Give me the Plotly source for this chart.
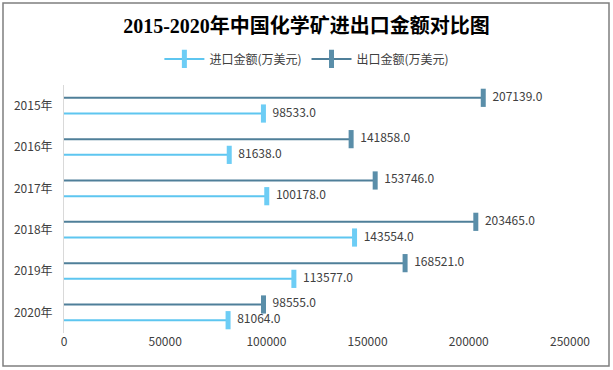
import plotly.graph_objects as go

years = ["2015年", "2016年", "2017年", "2018年", "2019年", "2020年"]
export_vals = [207139.0, 141858.0, 153746.0, 203465.0, 168521.0, 98555.0]
import_vals = [98533.0, 81638.0, 100178.0, 143554.0, 113577.0, 81064.0]
x_ticks = [0, 50000, 100000, 150000, 200000, 250000]

series = [
    ("进口金额(万美元)", import_vals, 0.19, "#5ec6f0", "#6dcdf5"),
    ("出口金额(万美元)", export_vals, -0.19, "#4f7f99", "#5a8ea9"),
]

FONT = "Noto Sans CJK SC, sans-serif"
fig = go.Figure()

for name, vals, off, lc, mc in series:
    xs, ys = [], []
    for i, v in enumerate(vals):
        xs += [0, v, None]
        ys += [i + off, i + off, None]
    fig.add_trace(go.Scatter(x=xs, y=ys, mode="lines", line=dict(color=lc, width=2),
                             showlegend=False, hoverinfo="skip"))
    fig.add_trace(go.Scatter(
        x=vals, y=[i + off for i in range(len(vals))], mode="markers+text",
        marker=dict(symbol="line-ns-open", size=13, color=mc, line=dict(width=5, color=mc)),
        text=[f"{v:.1f}" for v in vals], textposition="middle right",
        textfont=dict(size=12, color="#404040", family=FONT),
        showlegend=False))
    fig.add_trace(go.Scatter(
        x=[None], y=[None], mode="lines+markers", name=name,
        line=dict(color=lc, width=2),
        marker=dict(symbol="line-ns-open", size=13, color=mc, line=dict(width=5, color=mc))))

fig.update_layout(
    width=613, height=370,
    margin=dict(l=64, r=43, t=85, b=37),
    paper_bgcolor="white", plot_bgcolor="white",
    font=dict(family=FONT, size=12, color="#404040"),
    title=dict(text="<b>2015-2020年中国化学矿进出口金额对比图</b>", x=0.5, xanchor="center",
               y=1 - 26 / 370, yanchor="middle",
               font=dict(family="Liberation Serif, Noto Sans CJK SC, serif", size=20, color="black")),
    legend=dict(orientation="h", x=0.48, xanchor="center", y=1.105, yanchor="middle",
                font=dict(size=12, color="#404040", family=FONT), itemwidth=40),
    xaxis=dict(range=[0, 250000], tickvals=x_ticks, ticktext=[str(t) for t in x_ticks],
               showgrid=False, zeroline=False, showline=False, ticks="",
               tickfont=dict(size=12, color="#404040")),
    yaxis=dict(range=[5.5, -0.5], tickvals=list(range(len(years))), ticktext=years,
               showgrid=False, zeroline=False, showline=True, linecolor="#d9d9d9", linewidth=1,
               ticks="", ticklabelstandoff=8, tickfont=dict(size=12, color="#404040")),
    shapes=[dict(type="rect", xref="paper", yref="paper",
                 x0=(3 - 64) / 506, x1=(609 - 64) / 506,
                 y0=(333 - 366) / 248, y1=(333 - 3) / 248,
                 line=dict(color="#7f7f7f", width=1.5), fillcolor="rgba(0,0,0,0)", layer="below")],
)

fig.write_html("out.html", config={"displayModeBar": False},
               post_script="document.body.style.margin='0';document.body.style.overflow='hidden';")
